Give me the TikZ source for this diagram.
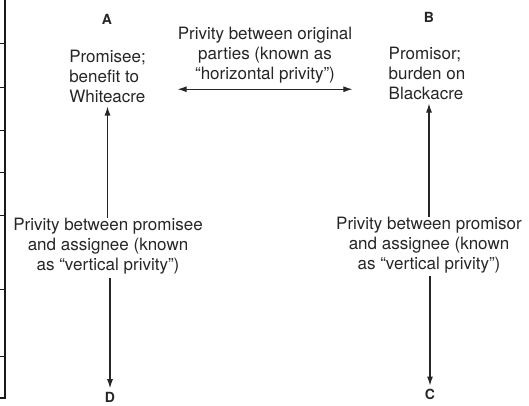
\documentclass[tikz,border=0pt]{standalone}
\usepackage{fontspec}
\setmainfont{TeX Gyre Heros}
\usetikzlibrary{arrows.meta}

\begin{document}
\begin{tikzpicture}[
    x=1pt, y=-1pt,
    >={Latex[length=9pt,width=6pt]},
    font=\fontsize{17}{20}\selectfont,
    party/.style={font=\fontsize{14}{16}\selectfont\bfseries, text=black!85, inner sep=0pt},
    desc/.style={align=left, text=black!85, inner sep=0pt},
    privity/.style={align=center, text=black!85, inner sep=0pt},
    arrow/.style={->, draw=black!85, line width=1.1pt},
    darrow/.style={<->, draw=black!85, line width=1.1pt},
    rule/.style={draw=black!90, line width=1pt},
]
\useasboundingbox (0,0) rectangle (529,405);

% === Left page edge (table rules) ===
\draw[draw=black!90, line width=2.5pt] (5,0) -- (5,398);
\foreach \y in {43,87,130,172,215,289,356}
  \draw[rule] (0,\y) -- (5,\y);
\draw[draw=black!90, line width=2pt] (0,398) -- (6.25,398);

% === Parties ===
\node[party] (A) at (107,19) {A};
\node[party] (B) at (429,17) {B};
\node[party] (D) at (110,397.5) {D};
\node[party] (C) at (430,394) {C};

\node[desc] (promisee) at (107.5,76) {Promisee;\\benefit to\\Whiteacre};
\node[desc] (promisor) at (427,73) {Promisor;\\burden on\\Blackacre};

% === Privity labels ===
\node[privity] (horiz) at (265,55)
     {Privity between original\\parties (known as\\``horizontal privity'')};
\node[privity] (vleft) at (108,246)
     {Privity between promisee\\and assignee (known\\as ``vertical privity'')};
\node[privity] (vright) at (429,245)
     {Privity between promisor\\and assignee (known\\as ``vertical privity'')};

% === Arrows ===
\draw[darrow] ([yshift=-6pt]horiz.south west) -- ([yshift=-6pt]horiz.south east);
\draw[arrow, shorten >=4pt] (vleft.north -| promisee) -- (promisee.south);
\draw[arrow, shorten >=4pt] (vright.north -| B) -- (promisor.south -| B);
\draw[arrow, shorten <=4pt, shorten >=4pt] (vleft.south -| D) -- (D.north);
\draw[arrow, shorten <=3pt, shorten >=3pt] (vright.south -| C) -- (C.north);

\end{tikzpicture}
\end{document}
